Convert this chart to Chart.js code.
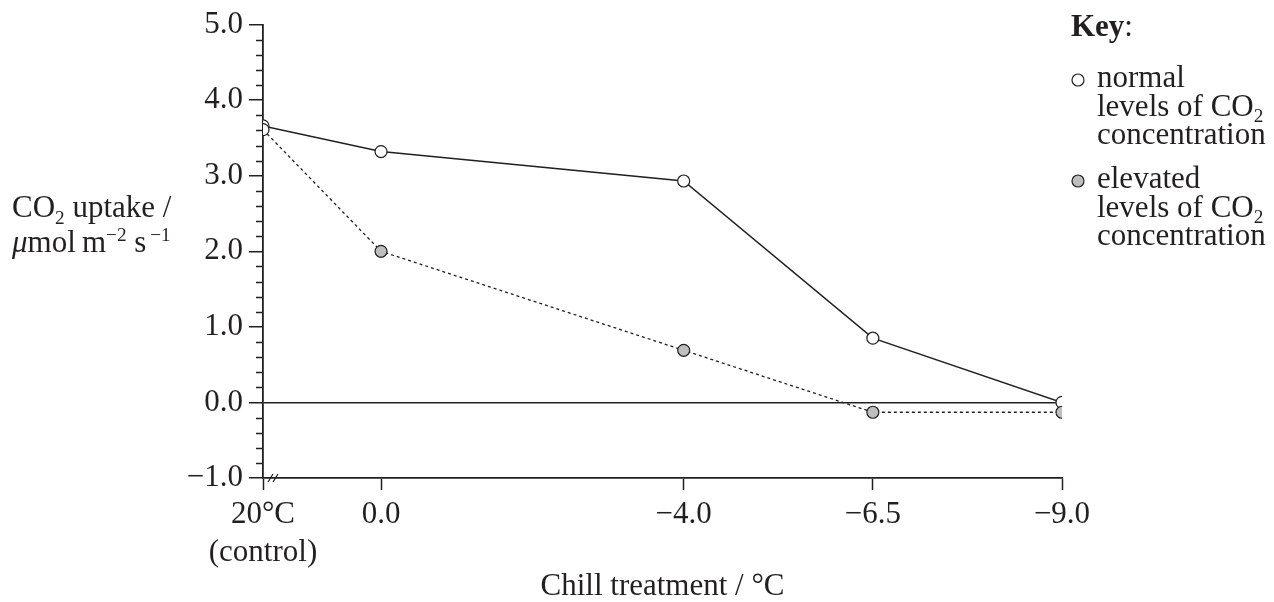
<!DOCTYPE html>
<html>
<head>
<meta charset="utf-8">
<script src="https://cdn.jsdelivr.net/npm/chart.js@4"></script>
<style>
  html, body { margin: 0; padding: 0; background: #fff; }
  #wrap { width: 1274px; height: 602px; }
</style>
</head>
<body>
<div id="wrap"><canvas id="chart" width="1274" height="602"></canvas></div>
<script>
// chill treatment positions on the x axis; the 20°C control sits left of 0.0 behind an axis break
const treatments = [1.56, 0.0, -4.0, -6.5, -9.0];
const treatmentLabels = [['20°C', '(control)'], '0.0', '−4.0', '−6.5', '−9.0'];

// CO2 uptake / µmol m-2 s-1
const normalCO2 = [3.66, 3.32, 2.93, 0.85, 0.0];
const elevatedCO2 = [3.61, 2.0, 0.69, -0.13, -0.13];

const yMin = -1.0, yMax = 5.0, yMajorStep = 1.0, yMinorStep = 0.2;

const xTitle = 'Chill treatment / °C';
const yTitleLines = [
  [['CO', 'n'], ['2', 'sub'], [' uptake /', 'n']],
  [['μ', 'i'], ['mol', 'n'], ['\u2009m', 'n'], ['−2', 'sup'], [' s', 'n'], ['\u2009−1', 'sup']]
];
const keyTitle = [['Key', 'b'], [':', 'n']];
const keyNormal = [[['normal', 'n']], [['levels of CO', 'n'], ['2', 'sub']], [['concentration', 'n']]];
const keyElevated = [[['elevated', 'n']], [['levels of CO', 'n'], ['2', 'sub']], [['concentration', 'n']]];

const INK = '#231f20';
const GREY = '#bcbec0';
const SERIF = '"Liberation Serif", "Times New Roman", serif';
const FS = 31;

function drawRuns(ctx, x, y, runs, size) {
  for (const [t, mode] of runs) {
    let fs = size, dy = 0, style = '';
    if (mode === 'sub') { fs = size * 0.62; dy = size * 0.22; }
    if (mode === 'sup') { fs = size * 0.62; dy = -size * 0.36; }
    if (mode === 'i') style = 'italic ';
    if (mode === 'b') style = 'bold ';
    ctx.font = style + fs + 'px ' + SERIF;
    ctx.fillText(t, x, y + dy);
    x += ctx.measureText(t).width;
  }
  return x;
}

const extras = {
  id: 'extras',
  afterDraw(chart) {
    const { ctx, chartArea, scales: { y } } = chart;
    ctx.save();
    ctx.strokeStyle = INK;
    ctx.lineWidth = 1.5;

    // minor ticks on the y axis
    const n = Math.round((yMax - yMin) / yMinorStep);
    for (let i = 0; i <= n; i++) {
      const v = yMin + i * yMinorStep;
      if (Math.abs(v - Math.round(v / yMajorStep) * yMajorStep) < 1e-6) continue;
      const py = Math.round(y.getPixelForValue(v)) + 0.5;
      ctx.beginPath();
      ctx.moveTo(chartArea.left - 7, py);
      ctx.lineTo(chartArea.left, py);
      ctx.stroke();
    }

    // axis break marks
    ctx.lineWidth = 1.2;
    const by = chartArea.bottom;
    for (const dx of [5, 10]) {
      ctx.beginPath();
      ctx.moveTo(chartArea.left + dx, by + 4);
      ctx.lineTo(chartArea.left + dx + 5, by - 4);
      ctx.stroke();
    }

    // y axis title
    ctx.fillStyle = INK;
    ctx.textAlign = 'left';
    ctx.textBaseline = 'alphabetic';
    drawRuns(ctx, 12, 217, yTitleLines[0], FS);
    drawRuns(ctx, 12, 252, yTitleLines[1], FS);

    // key
    drawRuns(ctx, 1071, 36, keyTitle, FS);
    const groups = [[keyNormal, '#fff', 87], [keyElevated, GREY, 188]];
    for (const [lines, fill, top] of groups) {
      ctx.beginPath();
      ctx.arc(1078, top - 7, 6, 0, Math.PI * 2);
      ctx.fillStyle = fill;
      ctx.fill();
      ctx.lineWidth = 1.2;
      ctx.stroke();
      ctx.fillStyle = INK;
      lines.forEach((runs, i) => drawRuns(ctx, 1097, top + i * 28.5, runs, FS));
    }
    ctx.restore();
  }
};

new Chart(document.getElementById('chart'), {
  type: 'line',
  data: {
    datasets: [
      {
        label: 'elevated levels of CO2 concentration',
        data: treatments.map((x, i) => ({ x, y: elevatedCO2[i] })),
        order: 0,
        borderColor: INK,
        borderWidth: 1.3,
        borderDash: [3, 3],
        pointRadius: 6,
        pointBorderWidth: 1.2,
        pointBorderColor: INK,
        pointBackgroundColor: ['#fff', GREY, GREY, GREY, GREY],
        fill: false,
        tension: 0
      },
      {
        label: 'normal levels of CO2 concentration',
        data: treatments.map((x, i) => ({ x, y: normalCO2[i] })),
        order: 1,
        borderColor: INK,
        borderWidth: 1.5,
        pointRadius: 6,
        pointBorderWidth: 1.2,
        pointBorderColor: INK,
        pointBackgroundColor: '#fff',
        fill: false,
        tension: 0
      }
    ]
  },
  options: {
    responsive: false,
    animation: false,
    events: [],
    layout: { padding: { left: 0, top: 23, right: 212, bottom: 0 } },
    plugins: { legend: { display: false }, tooltip: { enabled: false } },
    scales: {
      x: {
        type: 'linear',
        reverse: true,
        min: -9,
        max: 1.56,
        afterBuildTicks: s => { s.ticks = treatments.map(v => ({ value: v })); },
        ticks: {
          autoSkip: false,
          maxRotation: 0,
          color: INK,
          padding: 6,
          font: { family: SERIF, size: FS, lineHeight: 1.22 },
          callback: (v, i) => treatmentLabels[i]
        },
        grid: { drawOnChartArea: false, tickColor: INK, tickLength: 12, tickWidth: 1.5 },
        border: { display: true, color: INK, width: 1.8 },
        title: {
          display: true,
          text: xTitle,
          color: INK,
          font: { family: SERIF, size: FS, lineHeight: 1.0 },
          padding: { top: 0, bottom: 0 }
        },
        afterFit: s => { s.height = 124; }
      },
      y: {
        min: yMin,
        max: yMax,
        ticks: {
          stepSize: yMajorStep,
          color: INK,
          padding: 6,
          font: { family: SERIF, size: FS },
          callback: v => (v < 0 ? '−' : '') + Math.abs(v).toFixed(1)
        },
        grid: {
          drawOnChartArea: true,
          color: c => (c.tick && Math.abs(c.tick.value) < 1e-9) ? INK : 'rgba(0,0,0,0)',
          lineWidth: 1.5,
          tickColor: INK,
          tickLength: 14,
          tickWidth: 1.5
        },
        border: { display: true, color: INK, width: 1.8 },
        afterFit: s => { s.width = 263; }
      }
    }
  },
  plugins: [extras]
});
</script>
</body>
</html>
